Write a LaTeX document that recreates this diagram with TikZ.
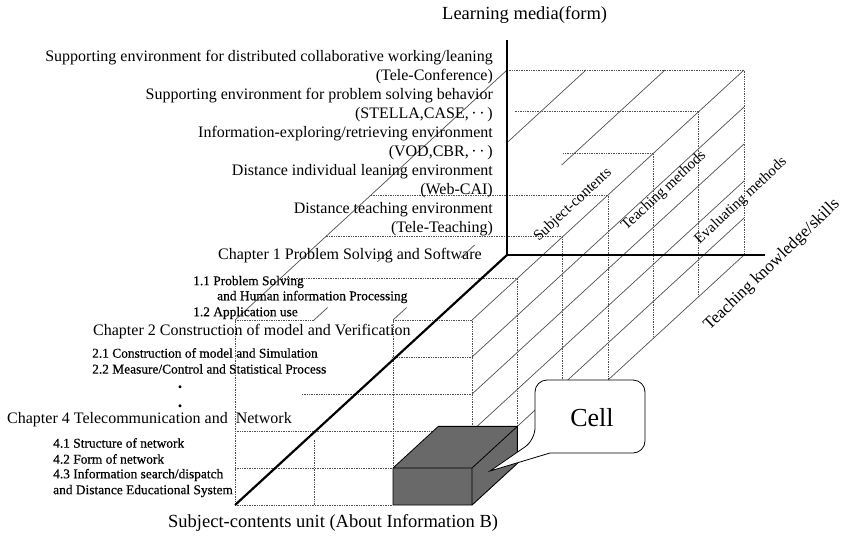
\documentclass[tikz,border=0pt]{standalone}
\usepackage{fontspec}
\setmainfont{Liberation Serif}
\newfontfamily\secfont[FakeBold=0.5]{Liberation Serif}
\usepackage{tikz}
\usetikzlibrary{positioning}
\usepackage{xcolor}
\definecolor{GridG}{RGB}{80,80,80}
\definecolor{CellG}{RGB}{105,105,105}

\tikzset{
  axis/.style={line width=2.2pt,black},
  depthline/.style={GridG,line width=0.7pt},
  gridline/.style={GridG,line width=0.7pt,dash pattern=on 0.8pt off 0.9pt},
  mediatext/.style={font=\fontsize{16}{18.9}\selectfont,align=right,inner sep=0pt,anchor=east},
  chaptext/.style={font=\fontsize{16}{19}\selectfont,inner sep=0pt,anchor=west},
  sectext/.style={font=\secfont\fontsize{13.4}{16}\selectfont,inner sep=0pt,anchor=west},
  axistitle/.style={font=\fontsize{18.5}{22}\selectfont,inner sep=0pt},
  catlabel/.style={font=\fontsize{15}{18}\selectfont,inner sep=0pt,rotate=43},
}

\begin{document}
\begin{tikzpicture}[x=1pt,y=-1pt]
  \fill[white] (0,0) rectangle (846,536);
  \useasboundingbox (0,0) rectangle (846,536);

  % oblique cube: x = teaching knowledge, y = learning media, z = subject-contents
  \begin{scope}[shift={(507,255)},x={(1pt,0pt)},y={(0pt,1pt)},z={(-45.33pt,-41.67pt)}]
    % right face
    \foreach \y in {0,37,...,185}
      \draw[depthline] (237,\y,0) -- (237,\y,6);
    \foreach \z in {0,...,6}
      \draw[gridline] (237,0,\z) -- (237,185,\z);
    % top face
    \draw[gridline] (0,185,0) -- (237,185,0);
    \draw[gridline] (53,185,1) -- (237,185,1);
    \draw[gridline] (147,185,2) -- (237,185,2);
    \foreach \z in {3,4,5}
      \draw[gridline] (0,185,\z) -- (237,185,\z);
    \draw[gridline] (0,185,6) -- (79,185,6) (158,185,6) -- (237,185,6);
    \draw[depthline] (0,185,0) -- (0,185,6);
    \draw[depthline] (79,185,0) -- (79,185,1.73) (79,185,4.3) -- (79,185,4.6)
      (79,185,5.7) -- (79,185,6);
    \draw[depthline] (158,185,0) -- (158,185,2.28) (158,185,4.2) -- (158,185,4.5)
      (158,185,5.7) -- (158,185,6);
    % front face
    \draw[gridline] (0,0,6) -- (158,0,6);
    \draw[gridline] (0,37,6) -- (158,37,6);
    \draw[gridline] (0,74,6) -- (237,74,6);
    \draw[gridline] (67,111,6) -- (237,111,6);
    \draw[gridline] (157,148,6) -- (237,148,6);
    \draw[gridline] (0,0,6) -- (0,185,6);
    \draw[gridline] (79,0,6) -- (79,65,6);
    \draw[gridline] (158,0,6) -- (158,185,6);
    % the cell
    \filldraw[fill=CellG,draw=black,line width=0.8pt,line join=round]
      (158,0,6) -- (237,0,6) -- (237,37,6) -- (158,37,6) -- cycle
      (158,37,6) -- (237,37,6) -- (237,37,5) -- (158,37,5) -- cycle
      (237,0,6) -- (237,0,5) -- (237,37,5) -- (237,37,6) -- cycle;
    % axes
    \draw[axis] (0,215,0) -- (0,0,0) -- (258,0,0);
    \draw[axis] (0,0,0) -- (0,0,6);
  \end{scope}

  % callout
  \draw[line width=0.8pt,fill=white] (550,453) [rounded corners=12pt] -- (645,453) -- (645,380)
    -- (535,380) -- (535,440) [sharp corners] -- (490,471) -- cycle;
  \node[font=\fontsize{26}{30}\selectfont,inner sep=0pt] (cell) at (592,418) {Cell};

  % learning media
  \node[mediatext] (media5) at (493,67.5) {Supporting environment for distributed collaborative working/leaning\\(Tele-Conference)};
  \node[mediatext] (media4) at (493,105.5) {Supporting environment for problem solving behavior\\(STELLA,CASE,\,·\,·\,)};
  \node[mediatext] (media3) at (493,143.3) {Information-exploring/retrieving environment\\(VOD,CBR,\,·\,·\,)};
  \node[mediatext] (media2) at (493,181) {Distance individual leaning environment\\(Web-CAI)};
  \node[mediatext] (media1) at (493,218.8) {Distance teaching environment\\(Tele-Teaching)};

  % subject contents
  \node[chaptext] (chap1) at (218,256) {Chapter 1 Problem Solving and Software};
  \node[sectext] (sec11) at (193,282) {1.1 Problem Solving};
  \node[sectext] (sec11b) at (217,297) {and Human information Processing};
  \node[sectext] (sec12) at (193,313) {1.2 Application use};
  \node[chaptext] (chap2) at (93,332) {Chapter 2 Construction of model and Verification};
  \node[sectext] (sec21) at (92,353) {2.1 Construction of model and Simulation};
  \node[sectext] (sec22) at (92,369) {2.2 Measure/Control and Statistical Process};
  \node[chaptext,font=\fontsize{18}{20}\selectfont\bfseries,anchor=base] (dota) at (180,388) {.};
  \node[chaptext,font=\fontsize{18}{20}\selectfont\bfseries,anchor=base] (dotb) at (180,407) {.};
  \node[chaptext] (chap4) at (7,420) {Chapter 4 Telecommunication and\ \ Network};
  \node[sectext] (sec41) at (53,443) {4.1 Structure of network};
  \node[sectext] (sec42) at (53,459) {4.2 Form of network};
  \node[sectext] (sec43) at (53,475) {4.3 Information search/dispatch};
  \node[sectext] (sec43b) at (53,491) {and Distance Educational System};

  % axis titles
  \node[axistitle,anchor=west] (mediatitle) at (442,15) {Learning media(form)};
  \node[axistitle,anchor=west] (unittitle) at (168,523) {Subject-contents unit (About Information B)};
  \node[axistitle,font=\fontsize{17}{20}\selectfont,rotate=44] (skilltitle) at (772,265) {Teaching knowledge/skills};

  % teaching knowledge categories
  \node[catlabel] (catsub) at (573,205) {Subject-contents};
  \node[catlabel] (catteach) at (664,191) {Teaching methods};
  \node[catlabel] (cateval) at (741,201) {Evaluating methods};
\end{tikzpicture}
\end{document}
